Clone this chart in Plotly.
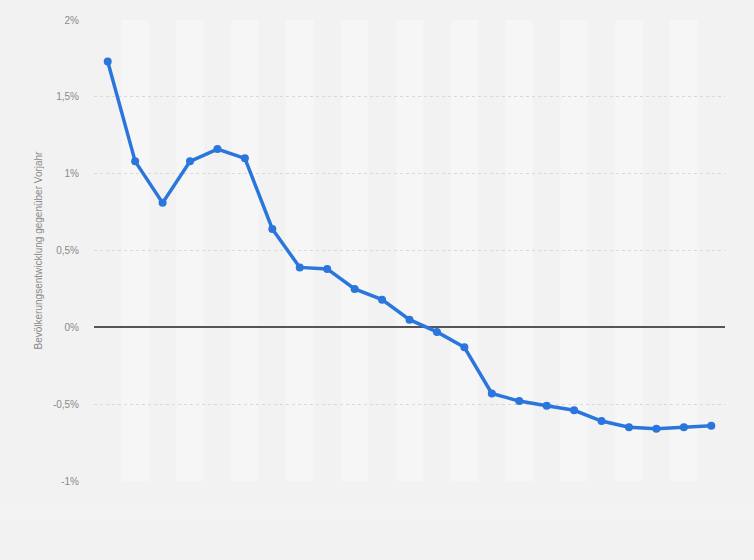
import plotly.graph_objects as go

# Data (years are not labelled in the reference; categories are placeholders kept hidden)
categories = [str(y) for y in range(2001, 2024)]
values = [1.73, 1.08, 0.81, 1.08, 1.16, 1.10, 0.64, 0.39, 0.38, 0.25, 0.18, 0.05,
          -0.03, -0.13, -0.43, -0.48, -0.51, -0.54, -0.61, -0.65, -0.66, -0.65, -0.64]
tick_vals = [2, 1.5, 1, 0.5, 0, -0.5, -1]
tick_text = ["2%", "1,5%", "1%", "0,5%", "0%", "-0,5%", "-1%"]
y_title = "Bevölkerungsentwicklung gegenüber Vorjahr"

BG = "#f2f2f2"
BAND = "#f6f6f6"
LINE = "#2a76dc"
TXT = "#8a8a8a"

fig = go.Figure()
fig.add_trace(go.Scatter(
    x=categories, y=values, mode="lines+markers",
    line=dict(color=LINE, width=3.5),
    marker=dict(color=LINE, size=8),
    hoverinfo="x+y",
))

shapes = []
for i in range(len(categories)):
    if i % 2 == 1:
        shapes.append(dict(type="rect", xref="x", yref="paper",
                           x0=i - 0.5, x1=i + 0.5, y0=0, y1=1,
                           fillcolor=BAND, line=dict(width=0), layer="below"))
shapes.append(dict(type="line", xref="paper", yref="paper",
                   x0=-0.149, x1=1.046, y0=-0.067, y1=-0.067,
                   line=dict(color="#f6f6f6", width=1)))

fig.update_layout(
    width=754, height=560,
    paper_bgcolor=BG, plot_bgcolor=BG,
    margin=dict(l=94, r=29, t=20, b=79),
    showlegend=False,
    shapes=shapes,
    font=dict(family="Liberation Sans, Arial, sans-serif", size=10, color=TXT),
    xaxis=dict(type="category", showticklabels=False, showgrid=False,
               zeroline=False, showline=False, ticks="",
               range=[-0.5, len(categories) - 0.5]),
    yaxis=dict(range=[-1, 2], tickvals=tick_vals, ticktext=tick_text,
               showgrid=True, gridcolor="#d9d9d9", griddash="dot", gridwidth=1,
               zeroline=True, zerolinecolor="#555555", zerolinewidth=1.5,
               showline=False, ticks="", ticklabelstandoff=14,
               tickfont=dict(size=10, color=TXT),
               title=dict(text=y_title, standoff=8,
                          font=dict(size=10, color=TXT))),
)

fig.write_html("out.html", config={"displayModeBar": False},
               post_script="document.body.style.margin='0';")
